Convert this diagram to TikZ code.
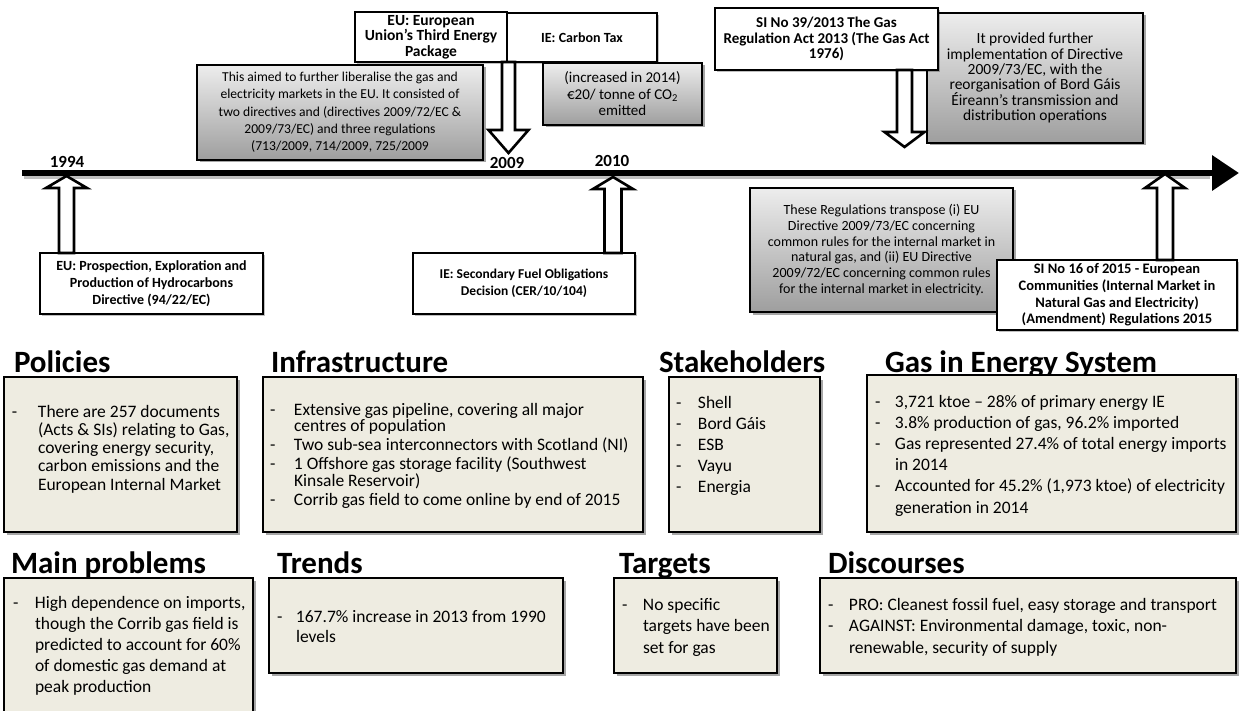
\documentclass[tikz,border=0pt]{standalone}
\usepackage{fontspec}
\setmainfont{Carlito}
\usetikzlibrary{shadows,arrows.meta,calc}
\definecolor{paper}{HTML}{EEECE1}

% bullet line helpers for the topic boxes
\newcommand\itm[1][22pt]{\makebox[#1][l]{-}}
\newcommand\cnt[1][22pt]{\hspace*{#1}}

% hollow block arrows: source anchor, tip, head length, half shaft, half head
\newcommand\liftarrow[5]{%
  \draw[hollow] let \p1=(#1), \p2=(#2) in
    (\x2,\y2) -- ({\x2+#5pt},{\y2-#3pt}) -- ({\x2+#4pt},{\y2-#3pt})
    -- ({\x2+#4pt},\y1) -- ({\x2-#4pt},\y1) -- ({\x2-#4pt},{\y2-#3pt})
    -- ({\x2-#5pt},{\y2-#3pt}) -- cycle;}
\newcommand\droparrow[5]{%
  \draw[hollow] let \p1=(#1), \p2=(#2) in
    (\x2,\y2) -- ({\x2+#5pt},{\y2+#3pt}) -- ({\x2+#4pt},{\y2+#3pt})
    -- ({\x2+#4pt},\y1) -- ({\x2-#4pt},\y1) -- ({\x2-#4pt},{\y2+#3pt})
    -- ({\x2-#5pt},{\y2+#3pt}) -- cycle;}

% font size and line spacing for a box
\newcommand\fs[2]{\fontsize{#1}{#2}\selectfont\lineskiplimit=-50pt\lineskip=0pt}

\tikzset{
  every node/.style={inner sep=0pt, outer sep=0pt},
  softshadow/.style={drop shadow={shadow xshift=2.5pt, shadow yshift=-2.5pt, opacity=0.35, fill=black}},
  eventbox/.style={draw=black, line width=2.6pt, fill=white, align=center,
    font={\fs{13.5}{15.5}\bfseries},
    drop shadow={shadow xshift=2pt, shadow yshift=-2pt, opacity=0.25, fill=black}},
  notebox/.style={draw=black, line width=1.1pt, top color=black!7, bottom color=black!38,
    align=center, font={\fs{14}{17.3}}, softshadow},
  topicbox/.style={draw=black, line width=1.3pt, fill=paper, softshadow},
  heading/.style={anchor=base west, font={\fontsize{31}{33}\selectfont\bfseries}},
  year/.style={font={\fontsize{17}{18}\selectfont\bfseries}},
  bodytext/.style={anchor=base west},
  hollow/.style={draw=black, line width=2.6pt, fill=white, line join=miter},
  timeline/.style={line width=6.5pt, -{Triangle[length=27pt,width=34pt]}}
}

\newcommand\body[2]{\parbox[t]{460pt}{\fs{17.5}{#1}\raggedright #2}}

\begin{document}
\begin{tikzpicture}[x=1pt,y=-1pt]
\fill[white] (0,0) rectangle (1239,711);
\useasboundingbox (0,0) rectangle (1239,711);

% ---------- explanatory notes (behind the event boxes) ----------
\node[notebox, minimum width=286pt, minimum height=95pt, font={\fs{13.6}{17.3}}] (tepnote) at (340,112.5)
  {This aimed to further liberalise the gas and\\electricity markets in the EU. It consisted of\\two directives and (directives 2009/72/EC \&\\2009/73/EC) and three regulations\\(713/2009, 714/2009, 725/2009};
\node[notebox, minimum width=159pt, minimum height=62pt, font={\fs{15}{16.5}}] (ctnote) at (622.5,94)
  {(increased in 2014)\\€20/ tonne of CO\textsubscript{2}\\emitted};
\node[notebox, minimum width=216pt, minimum height=130pt, font={\fs{15.5}{15.4}}] (actnote) at (1035,78)
  {It provided further\\implementation of Directive\\2009/73/EC, with the\\reorganisation of Bord Gáis\\Éireann’s transmission and\\distribution operations};
\node[notebox, minimum width=263pt, minimum height=124pt, font={\fs{14}{15.8}}] (regnote) at (881.5,250)
  {These Regulations transpose (i) EU\\Directive 2009/73/EC concerning\\common rules for the internal market in\\natural gas, and (ii) EU Directive\\2009/72/EC concerning common rules\\for the internal market in electricity.};

% ---------- events ----------
\node[eventbox, minimum width=152pt, minimum height=50pt, font={\fs{15.5}{15.5}\bfseries}] (tep) at (431,37)
  {EU: European\\Union's Third Energy\\Package};
\node[eventbox, minimum width=150pt, minimum height=49pt, font={\fs{14}{15.5}\bfseries}] (ct) at (582,37.5) {IE: Carbon Tax};
\node[eventbox, minimum width=223pt, minimum height=62pt, font={\fs{15}{15.5}\bfseries}] (si39) at (826.5,39)
  {SI No 39/2013 The Gas\\Regulation Act 2013 (The Gas Act\\1976)};
\node[eventbox, minimum width=223pt, minimum height=61pt, font={\fs{14}{16.7}\bfseries}] (b1994) at (151.5,283.5)
  {EU: Prospection, Exploration and\\Production of Hydrocarbons\\Directive (94/22/EC)};
\node[eventbox, minimum width=222pt, minimum height=61pt, font={\fs{13.5}{16.7}\bfseries}] (b2010) at (524,283.5)
  {IE: Secondary Fuel Obligations\\Decision (CER/10/104)};
\node[eventbox, minimum width=240pt, minimum height=70pt, font={\fs{14.5}{16.7}\bfseries}] (b2015) at (1117,295)
  {SI No 16 of 2015 - European\\Communities (Internal Market in\\Natural Gas and Electricity)\\(Amendment) Regulations 2015};

% ---------- time axis ----------
\coordinate (tl) at (22,173);
\coordinate (tr) at (1239,173);
\draw[black!25, line width=6pt] (24,176) -- (1210,176);
\draw[timeline] (tl) -- (tr);

\node[year] (y1994) at (67,162) {1994};
\node[year] (y2009) at (507,163) {2009};
\node[year] (y2010) at (612,161) {2010};

\coordinate (t1994) at (66.5,176);
\coordinate (t2009) at (508.5,153);
\coordinate (t2010) at (613,177);
\coordinate (t2013) at (904.5,147);
\coordinate (t2015) at (1165,174);

\liftarrow{b1994.north}{t1994}{12}{7.5}{20.5}
\liftarrow{b2010.north}{t2010}{12}{8.5}{20}
\liftarrow{b2015.north}{t2015}{14}{8}{20}
\droparrow{tep.south}{t2009}{23}{6.5}{20}
\droparrow{si39.south}{t2013}{15}{7.5}{20}

% ---------- topic boxes ----------
\node[heading] (hpol) at (14,372) {Policies};
\node[heading] (hinf) at (271,372) {Infrastructure};
\node[heading] (hsta) at (659,372) {Stakeholders};
\node[heading] (hgas) at (885,372) {Gas in Energy System};
\node[heading] (hpro) at (11,573) {Main problems};
\node[heading] (htre) at (277,573) {Trends};
\node[heading] (htar) at (619,573) {Targets};
\node[heading] (hdis) at (828,573) {Discourses};

\draw[topicbox] (4,377) rectangle (237,532);
\draw[topicbox] (263,377) rectangle (643,532);
\draw[topicbox] (669,377) rectangle (820,532);
\draw[topicbox] (867,375) rectangle (1236,532);
\draw[topicbox] (4,725) -- (4,578) -- (253,578) -- (253,725);
\draw[topicbox] (269,578) rectangle (563,673);
\draw[topicbox] (614,578) rectangle (777,673);
\draw[topicbox] (820,578) rectangle (1236,673);

\node[bodytext] (tpol) at (12,417) {\body{18.3}{%
  \itm[26pt]There are 257 documents\\
  \cnt[26pt](Acts \& SIs) relating to Gas,\\
  \cnt[26pt]covering energy security,\\
  \cnt[26pt]carbon emissions and the\\
  \cnt[26pt]European Internal Market}};
\node[bodytext] (tinf) at (270,415) {\body{16.5}{%
  \itm[24pt]Extensive gas pipeline, covering all major\\
  \cnt[24pt]centres of population\\[2.5pt]
  \itm[24pt]Two sub-sea interconnectors with Scotland (NI)\\[2.5pt]
  \itm[24pt]1 Offshore gas storage facility (Southwest\\
  \cnt[24pt]Kinsale Reservoir)\\[2.5pt]
  \itm[24pt]Corrib gas field to come online by end of 2015}};
\node[bodytext] (tsta) at (676,408) {\body{21.2}{%
  \itm Shell\\ \itm Bord Gáis\\ \itm ESB\\ \itm Vayu\\ \itm Energia}};
\node[bodytext] (tgas) at (875,407) {\body{21.2}{%
  \itm[20pt]3,721 ktoe – 28\% of primary energy IE\\
  \itm[20pt]3.8\% production of gas, 96.2\% imported\\
  \itm[20pt]Gas represented 27.4\% of total energy imports\\
  \cnt[20pt]in 2014\\
  \itm[20pt]Accounted for 45.2\% (1,973 ktoe) of electricity\\
  \cnt[20pt]generation in 2014}};
\node[bodytext] (tpro) at (13,608) {\body{21.2}{%
  \itm High dependence on imports,\\
  \cnt though the Corrib gas field is\\
  \cnt predicted to account for 60\%\\
  \cnt of domestic gas demand at\\
  \cnt peak production}};
\node[bodytext] (ttre) at (277,622) {\body{20}{%
  \itm[19pt]167.7\% increase in 2013 from 1990\\
  \cnt[19pt]levels}};
\node[bodytext] (ttar) at (622,610) {\body{21.5}{%
  \itm[21pt]No specific\\
  \cnt[21pt]targets have been\\
  \cnt[21pt]set for gas}};
\node[bodytext] (tdis) at (828,610) {\body{21.5}{%
  \itm[21pt]PRO: Cleanest fossil fuel, easy storage and transport\\
  \itm[21pt]AGAINST: Environmental damage, toxic, non-\\
  \cnt[21pt]renewable, security of supply}};
\end{tikzpicture}
\end{document}
